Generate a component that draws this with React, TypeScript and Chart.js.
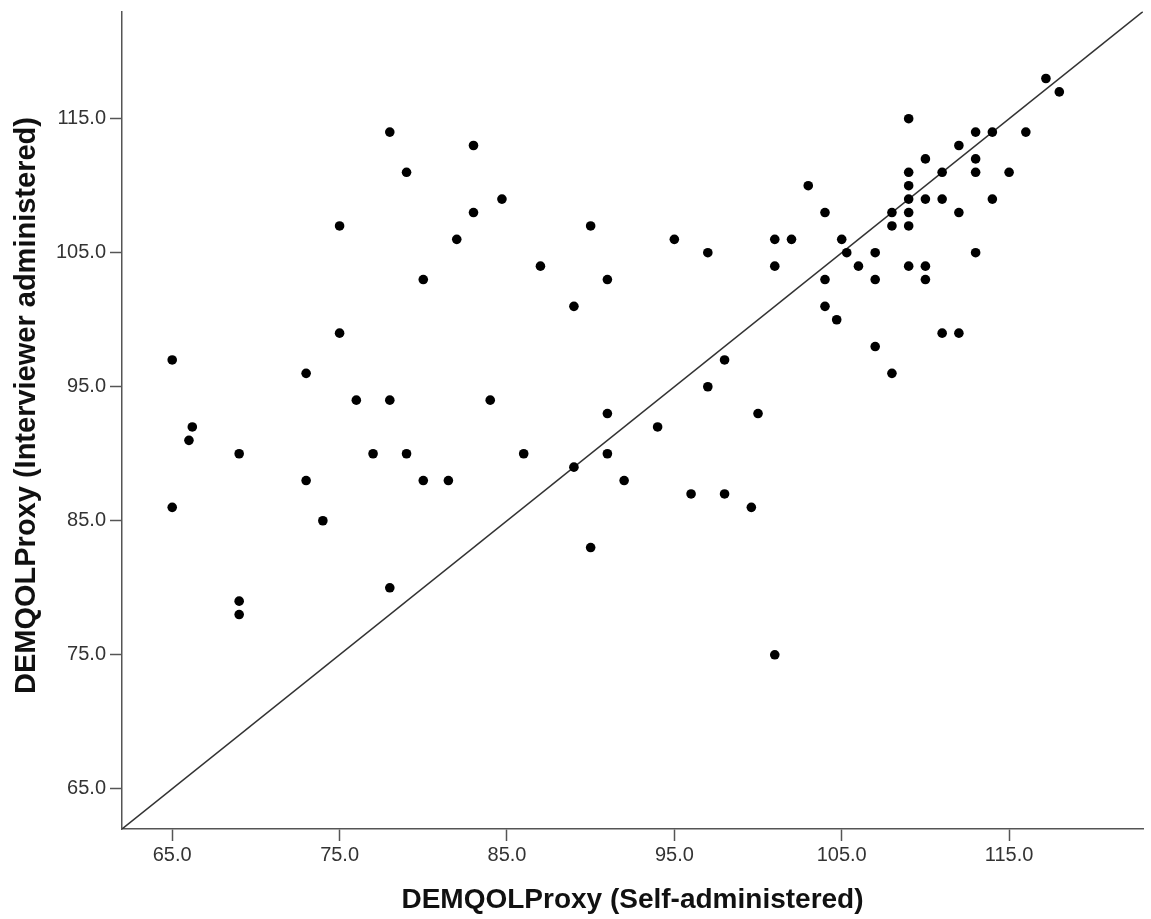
import React, { useEffect, useRef } from "react";
import { Chart, registerables } from "chart.js";

Chart.register(...registerables);

// Self-administered DEMQOL-Proxy score (x)
const selfAdministered = [
  117.2, 118, 109, 78, 113, 114, 116, 83, 112, 110, 113, 79, 109, 111, 113, 115,
  103, 109, 84.7, 109, 110, 111, 114, 83, 104, 108, 109, 112, 75, 90, 108, 109,
  82, 95, 101, 102, 105, 97, 105.3, 107, 113, 87, 101, 106, 109, 110, 80, 91,
  104, 107, 110, 89, 104, 104.7, 75, 111, 112, 107, 65, 98, 73, 108, 97, 76, 78,
  84, 91, 100, 66.2, 94, 66, 69, 77, 79, 86, 91, 89, 73, 80, 81.5, 92, 96, 98, 65,
  99.6, 74, 90, 78, 69, 69, 101,
];

// Interviewer-administered DEMQOL-Proxy score (y)
const interviewerAdministered = [
  118, 117, 115, 114, 114, 114, 114, 113, 113, 112, 112, 111, 111, 111, 111, 111,
  110, 110, 109, 109, 109, 109, 109, 108, 108, 108, 108, 108, 107, 107, 107, 107,
  106, 106, 106, 106, 106, 105, 105, 105, 105, 104, 104, 104, 104, 104, 103, 103,
  103, 103, 103, 101, 101, 100, 99, 99, 99, 98, 97, 97, 96, 96, 95, 94, 94,
  94, 93, 93, 92, 92, 91, 90, 90, 90, 90, 90, 89, 88, 88, 88, 88, 87, 87, 86,
  86, 85, 83, 80, 79, 78, 75,
];

const tickValues = [65, 75, 85, 95, 105, 115];
const axisRange = [62, 123];
const xTitle = "DEMQOLProxy (Self-administered)";
const yTitle = "DEMQOLProxy (Interviewer administered)";

const FONT = "'Liberation Sans', Arial, Helvetica, sans-serif";
const AXIS_COLOR = "#555";

// Draws the y-axis title slightly above the plot's vertical centre, as in the reference
const yTitlePlugin = {
  id: "yTitle",
  afterDraw(chart: any) {
    const { ctx, chartArea } = chart;
    const cy = chartArea.top + (chartArea.bottom - chartArea.top) * 0.482;
    ctx.save();
    ctx.translate(27, cy);
    ctx.rotate(-Math.PI / 2);
    ctx.font = `bold 29px ${FONT}`;
    ctx.fillStyle = "#111";
    ctx.textAlign = "center";
    ctx.textBaseline = "middle";
    ctx.fillText(yTitle, 0, 0);
    ctx.restore();
  },
};

export default function App() {
  const ref = useRef<HTMLCanvasElement>(null);

  useEffect(() => {
    const points = selfAdministered.map((x, i) => ({ x, y: interviewerAdministered[i] }));
    const refLine = axisRange.map((v) => ({ x: v, y: v }));

    const common = (isX: boolean) => ({
      type: "linear" as const,
      min: axisRange[0],
      max: axisRange[1],
      afterBuildTicks: (s: any) => {
        s.ticks = tickValues.map((v) => ({ value: v }));
      },
      grid: {
        display: true,
        drawOnChartArea: false,
        drawTicks: true,
        tickLength: 12,
        tickWidth: 1.5,
        tickColor: AXIS_COLOR,
        color: AXIS_COLOR,
      },
      border: { display: true, color: AXIS_COLOR, width: 1.5 },
      ticks: {
        autoSkip: false,
        maxRotation: 0,
        padding: isX ? 2 : 4,
        color: "#333",
        font: { family: FONT, size: 20 },
        callback: (v: any) => Number(v).toFixed(1),
      },
    });

    const chart = new Chart(ref.current!, {
      type: "scatter",
      data: {
        datasets: [
          {
            data: points,
            pointRadius: 4.8,
            pointBackgroundColor: "#000",
            pointBorderColor: "#000",
            pointBorderWidth: 0,
            showLine: false,
          },
          {
            type: "line",
            data: refLine,
            borderColor: "#333",
            borderWidth: 1.5,
            pointRadius: 0,
            fill: false,
          } as any,
        ],
      },
      options: {
        responsive: false,
        animation: false,
        devicePixelRatio: 1,
        layout: { autoPadding: false, padding: { top: 11.5, right: 8, left: 0, bottom: 0 } },
        plugins: { legend: { display: false }, tooltip: { enabled: false } },
        scales: {
          x: {
            ...common(true),
            title: {
              display: true,
              text: xTitle,
              color: "#111",
              font: { family: FONT, size: 28, weight: "bold" },
              padding: { top: 0, bottom: 2 },
            },
            afterFit: (s: any) => {
              s.height = 90;
              s.paddingLeft = 0;
              s.paddingRight = 0;
            },
          },
          y: {
            ...common(false),
            title: { display: false },
            afterFit: (s: any) => {
              s.width = 122;
              s.paddingTop = 0;
              s.paddingBottom = 0;
            },
          },
        },
      } as any,
      plugins: [yTitlePlugin],
    });
    return () => chart.destroy();
  }, []);

  return (
    <div style={{ position: "fixed", left: 0, top: 0, width: 1151, height: 919, background: "#fff" }}>
      <canvas ref={ref} width={1151} height={919} style={{ display: "block" }} />
    </div>
  );
}
